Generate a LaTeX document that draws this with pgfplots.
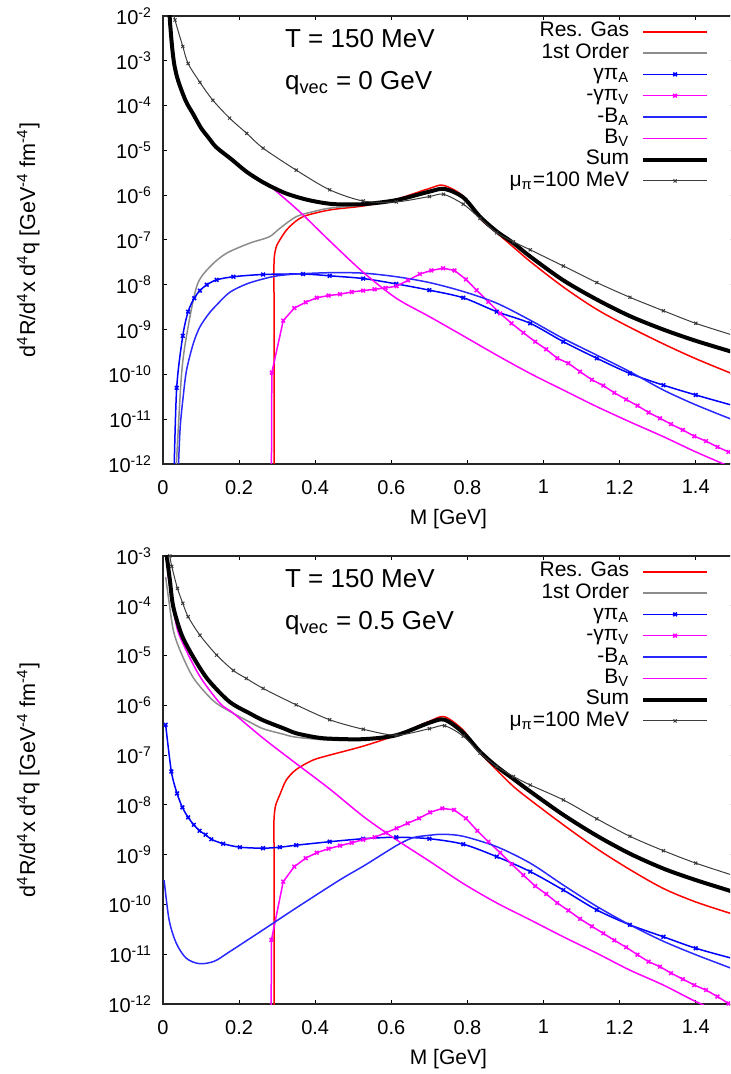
\documentclass[border=0pt]{standalone}
\usepackage{pgfplots}
\pgfplotsset{compat=1.18}
\usepackage{fontspec}
\setmainfont{Liberation Sans}
\definecolor{cRed}{RGB}{255,0,0}
\definecolor{cGrey}{RGB}{140,140,140}
\definecolor{cBlueA}{RGB}{0,0,255}
\definecolor{cBlueB}{RGB}{40,40,255}
\definecolor{cMag}{RGB}{255,0,255}
\definecolor{cMu}{RGB}{60,60,60}
\pgfplotsset{
  legend image code/.code={\draw[mark repeat=2,mark phase=2,#1] plot coordinates {(0pt,0pt)(16pt,0pt)(32pt,0pt)};},
}
\begin{document}
\begin{tikzpicture}
\useasboundingbox (0,0) rectangle (365pt,537pt);
\clip (0,0) rectangle (365pt,537pt);
% ---------------- top panel: q = 0 ----------------
\begin{axis}[at={(81.5pt,305pt)}, anchor=south west,
  scale only axis, width=285.4pt, height=224pt,
  xmin=0, xmax=1.5, ymode=log, ymin=1e-12, ymax=1e-2,
  xtick={0,0.2,0.4,0.6,0.8,1,1.2,1.4},
  xticklabels={0,0.2,0.4,0.6,0.8,1,1.2,1.4},
  ytick={1e-12,1e-11,1e-10,1e-9,1e-8,1e-7,1e-6,1e-5,1e-4,1e-3,1e-2},
  yticklabels={10\textsuperscript{-12},10\textsuperscript{-11},10\textsuperscript{-10},10\textsuperscript{-9},10\textsuperscript{-8},10\textsuperscript{-7},10\textsuperscript{-6},10\textsuperscript{-5},10\textsuperscript{-4},10\textsuperscript{-3},10\textsuperscript{-2}},
  xminorticks=false, yminorticks=false,
  tick align=inside, major tick length=1.8pt,
  tick style={line width=0.5pt, black},
  axis line style={line width=0.6pt, black!85},
  ticklabel style={font=\fontsize{10}{12}\selectfont},
  xticklabel style={yshift=-4.5pt},
  yticklabel style={xshift=-2pt},
  xlabel={M [GeV]},
  xlabel style={at={(axis description cs:0.5,0)}, anchor=center, yshift=-27.5pt, font=\fontsize{10.5}{12}\selectfont},
  ylabel={d\textsuperscript{4}R/d\textsuperscript{4}x d\textsuperscript{4}q [GeV\textsuperscript{-4} fm\textsuperscript{-4}]},
  ylabel style={at={(axis description cs:-0.236,0.5)}, anchor=center, font=\fontsize{10.8}{12}\selectfont},
  legend style={at={(rel axis cs:0.9567,1)}, anchor=north east, yshift=-2.9pt, draw=none, fill=none, inner sep=0pt, outer sep=0pt, font=\fontsize{10.5}{12}\selectfont, row sep=0.65pt, column sep=6pt, nodes={inner sep=0pt, text height=7.6pt, text depth=2.4pt}},
  legend cell align=right, legend plot pos=right]
\addplot[color=cRed, line width=0.75pt, smooth] coordinates {(0.2917,5e-13) (0.2917,1e-10) (0.2917,5e-9) (0.2917,3.0e-8) (0.294,5.2e-8) (0.299,7.6e-8) (0.307,1.0e-7) (0.318,1.4e-7) (0.333,2.0e-7) (0.368,3.31e-7) (0.438,4.68e-7) (0.526,5.75e-7) (0.613,8.13e-7) (0.70,1.413e-6) (0.737,1.66e-6) (0.789,9.55e-7) (0.833,3.02e-7) (0.877,1.445e-7) (0.921,6.92e-8) (0.965,3.31e-8) (1.052,8.91e-9) (1.14,2.82e-9) (1.227,1.122e-9) (1.315,4.79e-10) (1.40,2.24e-10) (1.50,1.0e-10)};
\addlegendentry{Res. Gas}
\addplot[color=cGrey, line width=0.75pt, smooth] coordinates {(0.034,6.31e-13) (0.049,1.072e-10) (0.066,1.148e-9) (0.09,1.0e-8) (0.123,2.51e-8) (0.166,5.01e-8) (0.228,8.51e-8) (0.279,1.175e-7) (0.307,1.82e-7) (0.35,3.31e-7) (0.394,4.27e-7) (0.438,5.13e-7) (0.526,6.03e-7) (0.613,7.59e-7) (0.70,1.148e-6) (0.74,1.318e-6) (0.789,8.71e-7) (0.833,3.24e-7) (0.877,1.514e-7) (0.921,8.32e-8) (0.965,4.17e-8) (1.052,1.23e-8) (1.14,4.57e-9) (1.227,1.95e-9) (1.315,9.77e-10) (1.40,5.5e-10) (1.50,3.09e-10)};
\addlegendentry{1st Order}
\addplot[color=cBlueA, line width=0.75pt, smooth, mark=x, mark size=1.3pt] coordinates {(0.029,6.31e-13) (0.036,5.01e-11) (0.052,7.24e-10) (0.066,2.51e-9) (0.082,5.01e-9) (0.097,7.41e-9) (0.115,1.0e-8) (0.141,1.288e-8) (0.185,1.514e-8) (0.263,1.698e-8) (0.368,1.738e-8) (0.438,1.585e-8) (0.526,1.38e-8) (0.613,1.047e-8) (0.70,7.59e-9) (0.789,5.13e-9) (0.877,2.51e-9) (0.965,1.38e-9) (1.052,5.37e-10) (1.14,2.29e-10) (1.227,1.047e-10) (1.315,5.75e-11) (1.40,3.47e-11) (1.50,2.0e-11)};
\addlegendentry{γπ\textsubscript{A}}
\addplot[color=cMag, line width=0.75pt, mark=x, mark size=1.3pt] coordinates {(0.284,1e-14) (0.286,1.096e-10) (0.316,1.585e-9) (0.345,3.02e-9) (0.375,4.07e-9) (0.404,5.13e-9) (0.435,5.75e-9) (0.465,6.17e-9) (0.496,6.92e-9) (0.526,7.41e-9) (0.556,7.94e-9) (0.585,8.51e-9) (0.614,9.33e-9) (0.644,1.259e-8) (0.675,1.738e-8) (0.705,2.09e-8) (0.736,2.34e-8) (0.766,2.09e-8) (0.796,1.318e-8) (0.824,7.59e-9) (0.855,4.17e-9) (0.886,2.29e-9) (0.916,1.38e-9) (0.947,8.51e-10) (0.978,5.37e-10) (1.007,3.63e-10) (1.036,2.29e-10) (1.065,1.778e-10) (1.096,1.148e-10) (1.127,7.59e-11) (1.157,5.62e-11) (1.186,3.89e-11) (1.217,2.75e-11) (1.247,2.0e-11) (1.276,1.413e-11) (1.306,1.047e-11) (1.335,7.76e-12) (1.366,5.75e-12) (1.396,4.17e-12) (1.427,3.24e-12) (1.457,2.4e-12) (1.486,1.862e-12)};
\addlegendentry{-γπ\textsubscript{V}}
\addplot[color=cBlueB, line width=0.75pt, smooth] coordinates {(0.040,6.31e-13) (0.045,6.31e-12) (0.053,3.16e-11) (0.062,1.259e-10) (0.08,5.01e-10) (0.097,1.148e-9) (0.12,2.24e-9) (0.141,3.55e-9) (0.175,6.76e-9) (0.22,1.047e-8) (0.263,1.349e-8) (0.30,1.585e-8) (0.35,1.738e-8) (0.438,1.862e-8) (0.526,1.82e-8) (0.613,1.514e-8) (0.70,1.122e-8) (0.789,7.08e-9) (0.877,3.89e-9) (0.965,1.622e-9) (1.052,6.31e-10) (1.14,2.69e-10) (1.227,1.148e-10) (1.315,4.47e-11) (1.40,2.09e-11) (1.50,9.5e-12)};
\addlegendentry{-B\textsubscript{A}}
\addplot[color=cMag, line width=0.75pt, smooth] coordinates {(0.016,1.585e-2) (0.019,6.31e-3) (0.024,2.0e-3) (0.03,7.94e-4) (0.04,3.55e-4) (0.06,1.259e-4) (0.08,6.31e-5) (0.10,3.16e-5) (0.12,1.905e-5) (0.14,1.175e-5) (0.18,6.31e-6) (0.22,3.31e-6) (0.26,2.0e-6) (0.28,1.62e-6) (0.33,7.08e-7) (0.368,3.63e-7) (0.438,9.55e-8) (0.526,1.905e-8) (0.613,5.01e-9) (0.70,1.95e-9) (0.789,7.24e-10) (0.877,2.69e-10) (0.965,1.047e-10) (1.052,4.47e-11) (1.14,1.905e-11) (1.227,8.71e-12) (1.315,4.07e-12) (1.40,1.862e-12) (1.50,8.0e-13)};
\addlegendentry{B\textsubscript{V}}
\addplot[color=black, line width=2pt, smooth] coordinates {(0.016,1.585e-2) (0.019,6.31e-3) (0.024,2.0e-3) (0.03,7.94e-4) (0.04,3.55e-4) (0.06,1.259e-4) (0.08,6.31e-5) (0.10,3.16e-5) (0.12,1.905e-5) (0.14,1.175e-5) (0.18,6.31e-6) (0.22,3.31e-6) (0.26,2.0e-6) (0.28,1.62e-6) (0.32,1.122e-6) (0.36,8.71e-7) (0.40,7.24e-7) (0.45,6.31e-7) (0.526,6.31e-7) (0.613,7.76e-7) (0.70,1.202e-6) (0.74,1.38e-6) (0.789,8.91e-7) (0.833,3.31e-7) (0.877,1.549e-7) (0.921,8.51e-8) (0.965,4.27e-8) (1.052,1.259e-8) (1.14,4.68e-9) (1.227,2.0e-9) (1.315,1.0e-9) (1.40,5.62e-10) (1.50,3.1e-10)};
\addlegendentry{Sum}
\addplot[color=cMu, line width=0.5pt, smooth, mark=x, mark size=1.1pt] coordinates {(0.028,1.259e-2) (0.0315,8.13e-3) (0.052,2.09e-3) (0.066,8.71e-4) (0.097,3.31e-4) (0.131,1.318e-4) (0.175,5.25e-5) (0.22,2.4e-5) (0.263,1.122e-5) (0.35,3.63e-6) (0.438,1.318e-6) (0.526,7.41e-7) (0.613,7.08e-7) (0.70,9.33e-7) (0.737,1.047e-6) (0.789,6.31e-7) (0.833,3.02e-7) (0.877,1.445e-7) (0.921,9.12e-8) (0.965,6.03e-8) (1.052,2.63e-8) (1.14,1.122e-8) (1.227,5.25e-9) (1.315,2.63e-9) (1.40,1.38e-9) (1.50,7.4e-10)};
\addlegendentry{μ\textsubscript{π}=100 MeV}
\node[anchor=base west, font=\fontsize{13}{15}\selectfont] at (rel axis cs:0.2015,0.9286) {T = 150 MeV};
\node[anchor=base west, font=\fontsize{13}{15}\selectfont] at (rel axis cs:0.2015,0.835) {q\textsubscript{vec} = 0 GeV};
\end{axis}
% ---------------- bottom panel: q = 0.5 GeV ----------------
\begin{axis}[at={(81.5pt,35pt)}, anchor=south west,
  scale only axis, width=285.4pt, height=224pt,
  xmin=0, xmax=1.5, ymode=log, ymin=1e-12, ymax=1e-3,
  xtick={0,0.2,0.4,0.6,0.8,1,1.2,1.4},
  xticklabels={0,0.2,0.4,0.6,0.8,1,1.2,1.4},
  ytick={1e-12,1e-11,1e-10,1e-9,1e-8,1e-7,1e-6,1e-5,1e-4,1e-3},
  yticklabels={10\textsuperscript{-12},10\textsuperscript{-11},10\textsuperscript{-10},10\textsuperscript{-9},10\textsuperscript{-8},10\textsuperscript{-7},10\textsuperscript{-6},10\textsuperscript{-5},10\textsuperscript{-4},10\textsuperscript{-3}},
  xminorticks=false, yminorticks=false,
  tick align=inside, major tick length=1.8pt,
  tick style={line width=0.5pt, black},
  axis line style={line width=0.6pt, black!85},
  ticklabel style={font=\fontsize{10}{12}\selectfont},
  xticklabel style={yshift=-4.5pt},
  yticklabel style={xshift=-2pt},
  xlabel={M [GeV]},
  xlabel style={at={(axis description cs:0.5,0)}, anchor=center, yshift=-27.5pt, font=\fontsize{10.5}{12}\selectfont},
  ylabel={d\textsuperscript{4}R/d\textsuperscript{4}x d\textsuperscript{4}q [GeV\textsuperscript{-4} fm\textsuperscript{-4}]},
  ylabel style={at={(axis description cs:-0.236,0.5)}, anchor=center, font=\fontsize{10.8}{12}\selectfont},
  legend style={at={(rel axis cs:0.9567,1)}, anchor=north east, yshift=-2.9pt, draw=none, fill=none, inner sep=0pt, outer sep=0pt, font=\fontsize{10.5}{12}\selectfont, row sep=0.65pt, column sep=6pt, nodes={inner sep=0pt, text height=7.6pt, text depth=2.4pt}},
  legend cell align=right, legend plot pos=right]
\addplot[color=cRed, line width=0.75pt, smooth] coordinates {(0.2917,5e-13) (0.2917,1e-10) (0.2917,1.5e-9) (0.2917,5.0e-9) (0.295,9.0e-9) (0.30,1.2e-8) (0.307,1.6e-8) (0.324,3.16e-8) (0.35,5.13e-8) (0.394,7.94e-8) (0.438,1.0e-7) (0.526,1.514e-7) (0.613,2.51e-7) (0.70,4.79e-7) (0.74,5.89e-7) (0.789,3.16e-7) (0.833,1.122e-7) (0.877,5.01e-8) (0.921,2.34e-8) (0.965,1.259e-8) (1.052,3.98e-9) (1.14,1.318e-9) (1.227,5.01e-10) (1.315,2.09e-10) (1.40,1.122e-10) (1.50,6.3e-11)};
\addlegendentry{Res. Gas}
\addplot[color=cGrey, line width=0.75pt, smooth] coordinates {(0.007,3.8e-4) (0.014,1.514e-4) (0.027,3.24e-5) (0.045,1.259e-5) (0.08,3.55e-6) (0.131,1.259e-6) (0.175,7.59e-7) (0.229,4.57e-7) (0.263,3.39e-7) (0.316,2.63e-7) (0.35,2.29e-7) (0.438,2.0e-7) (0.526,2.04e-7) (0.613,2.45e-7) (0.70,4.37e-7) (0.74,5.01e-7) (0.789,2.75e-7) (0.833,1.148e-7) (0.877,5.75e-8) (0.921,3.24e-8) (0.965,1.82e-8) (1.052,6.17e-9) (1.14,2.34e-9) (1.227,1.023e-9) (1.315,5.13e-10) (1.40,3.02e-10) (1.50,1.75e-10)};
\addlegendentry{1st Order}
\addplot[color=cBlueA, line width=0.75pt, smooth, mark=x, mark size=1.3pt] coordinates {(0.007,4.07e-7) (0.022,4.68e-8) (0.037,1.698e-8) (0.051,8.91e-9) (0.066,5.62e-9) (0.081,3.98e-9) (0.096,3.02e-9) (0.112,2.51e-9) (0.127,2.04e-9) (0.158,1.66e-9) (0.202,1.413e-9) (0.263,1.349e-9) (0.307,1.413e-9) (0.35,1.549e-9) (0.438,1.82e-9) (0.526,2.09e-9) (0.613,2.24e-9) (0.70,2.09e-9) (0.789,1.622e-9) (0.877,9.12e-10) (0.965,4.57e-10) (1.052,1.95e-10) (1.14,7.76e-11) (1.227,3.89e-11) (1.315,2.24e-11) (1.40,1.318e-11) (1.50,8.1e-12)};
\addlegendentry{γπ\textsubscript{A}}
\addplot[color=cMag, line width=0.75pt, mark=x, mark size=1.3pt] coordinates {(0.283,1e-14) (0.285,1.95e-11) (0.316,2.88e-10) (0.345,5.75e-10) (0.375,8.51e-10) (0.404,1.096e-9) (0.435,1.318e-9) (0.465,1.514e-9) (0.496,1.738e-9) (0.526,2.0e-9) (0.556,2.24e-9) (0.585,2.75e-9) (0.614,3.39e-9) (0.643,4.27e-9) (0.673,5.37e-9) (0.702,7.08e-9) (0.734,8.51e-9) (0.765,7.94e-9) (0.796,5.37e-9) (0.826,3.02e-9) (0.855,1.82e-9) (0.886,1.096e-9) (0.916,6.46e-10) (0.947,3.89e-10) (0.978,2.34e-10) (1.007,1.622e-10) (1.036,1.072e-10) (1.065,7.59e-11) (1.096,5.13e-11) (1.127,3.63e-11) (1.157,2.63e-11) (1.186,1.905e-11) (1.217,1.38e-11) (1.247,9.77e-12) (1.276,7.08e-12) (1.306,5.62e-12) (1.335,4.17e-12) (1.366,3.16e-12) (1.396,2.4e-12) (1.427,1.905e-12) (1.457,1.413e-12) (1.486,1.023e-12)};
\addlegendentry{-γπ\textsubscript{V}}
\addplot[color=cBlueB, line width=0.75pt, smooth] coordinates {(0.003,3.09e-10) (0.016,4.9e-11) (0.035,1.66e-11) (0.061,8.32e-12) (0.096,6.46e-12) (0.135,7.24e-12) (0.175,1.122e-11) (0.263,3.09e-11) (0.35,8.51e-11) (0.464,3.09e-10) (0.531,6.17e-10) (0.613,1.514e-9) (0.657,2.19e-9) (0.70,2.45e-9) (0.736,2.57e-9) (0.789,2.34e-9) (0.877,1.445e-9) (0.965,6.76e-10) (1.052,2.45e-10) (1.14,9.12e-11) (1.227,3.89e-11) (1.315,1.82e-11) (1.40,9.77e-12) (1.50,5.0e-12)};
\addlegendentry{-B\textsubscript{A}}
\addplot[color=cMag, line width=0.75pt, smooth] coordinates {(0.012,5.01e-4) (0.018,2.4e-4) (0.036,3.8e-5) (0.055,1.585e-5) (0.097,3.8e-6) (0.15,1.096e-6) (0.185,6.92e-7) (0.263,2.19e-7) (0.35,6.76e-8) (0.438,2.09e-8) (0.526,5.89e-9) (0.613,2.0e-9) (0.70,7.41e-10) (0.789,2.63e-10) (0.877,1.072e-10) (0.965,4.9e-11) (1.052,2.24e-11) (1.14,1.047e-11) (1.227,4.79e-12) (1.315,2.4e-12) (1.40,1.122e-12) (1.50,5.2e-13)};
\addlegendentry{B\textsubscript{V}}
\addplot[color=black, line width=2pt, smooth] coordinates {(0.008,1.259e-3) (0.01,9.77e-4) (0.018,3.31e-4) (0.027,9.55e-5) (0.05,2.51e-5) (0.085,7.94e-6) (0.12,3.16e-6) (0.175,1.175e-6) (0.23,6.76e-7) (0.263,5.01e-7) (0.316,3.47e-7) (0.35,2.75e-7) (0.40,2.29e-7) (0.438,2.14e-7) (0.526,2.09e-7) (0.613,2.51e-7) (0.70,4.47e-7) (0.74,5.13e-7) (0.789,2.82e-7) (0.833,1.175e-7) (0.877,5.89e-8) (0.921,3.31e-8) (0.965,1.862e-8) (1.052,6.31e-9) (1.14,2.4e-9) (1.227,1.047e-9) (1.315,5.25e-10) (1.40,3.09e-10) (1.50,1.78e-10)};
\addlegendentry{Sum}
\addplot[color=cMu, line width=0.5pt, smooth, mark=x, mark size=1.1pt] coordinates {(0.018,1.0e-3) (0.023,6.17e-4) (0.038,2.24e-4) (0.052,1.122e-4) (0.066,6.03e-5) (0.097,2.57e-5) (0.141,1.023e-5) (0.185,5.01e-6) (0.219,3.47e-6) (0.263,2.19e-6) (0.35,1.023e-6) (0.438,5.13e-7) (0.526,3.31e-7) (0.613,2.51e-7) (0.70,3.39e-7) (0.74,3.89e-7) (0.789,2.4e-7) (0.833,1.096e-7) (0.877,5.89e-8) (0.921,3.72e-8) (0.965,2.51e-8) (1.052,1.259e-8) (1.14,5.25e-9) (1.227,2.34e-9) (1.315,1.202e-9) (1.40,6.76e-10) (1.50,3.8e-10)};
\addlegendentry{μ\textsubscript{π}=100 MeV}
\node[anchor=base west, font=\fontsize{13}{15}\selectfont] at (rel axis cs:0.2015,0.9286) {T = 150 MeV};
\node[anchor=base west, font=\fontsize{13}{15}\selectfont] at (rel axis cs:0.2015,0.835) {q\textsubscript{vec} = 0.5 GeV};
\end{axis}
\end{tikzpicture}
\end{document}
